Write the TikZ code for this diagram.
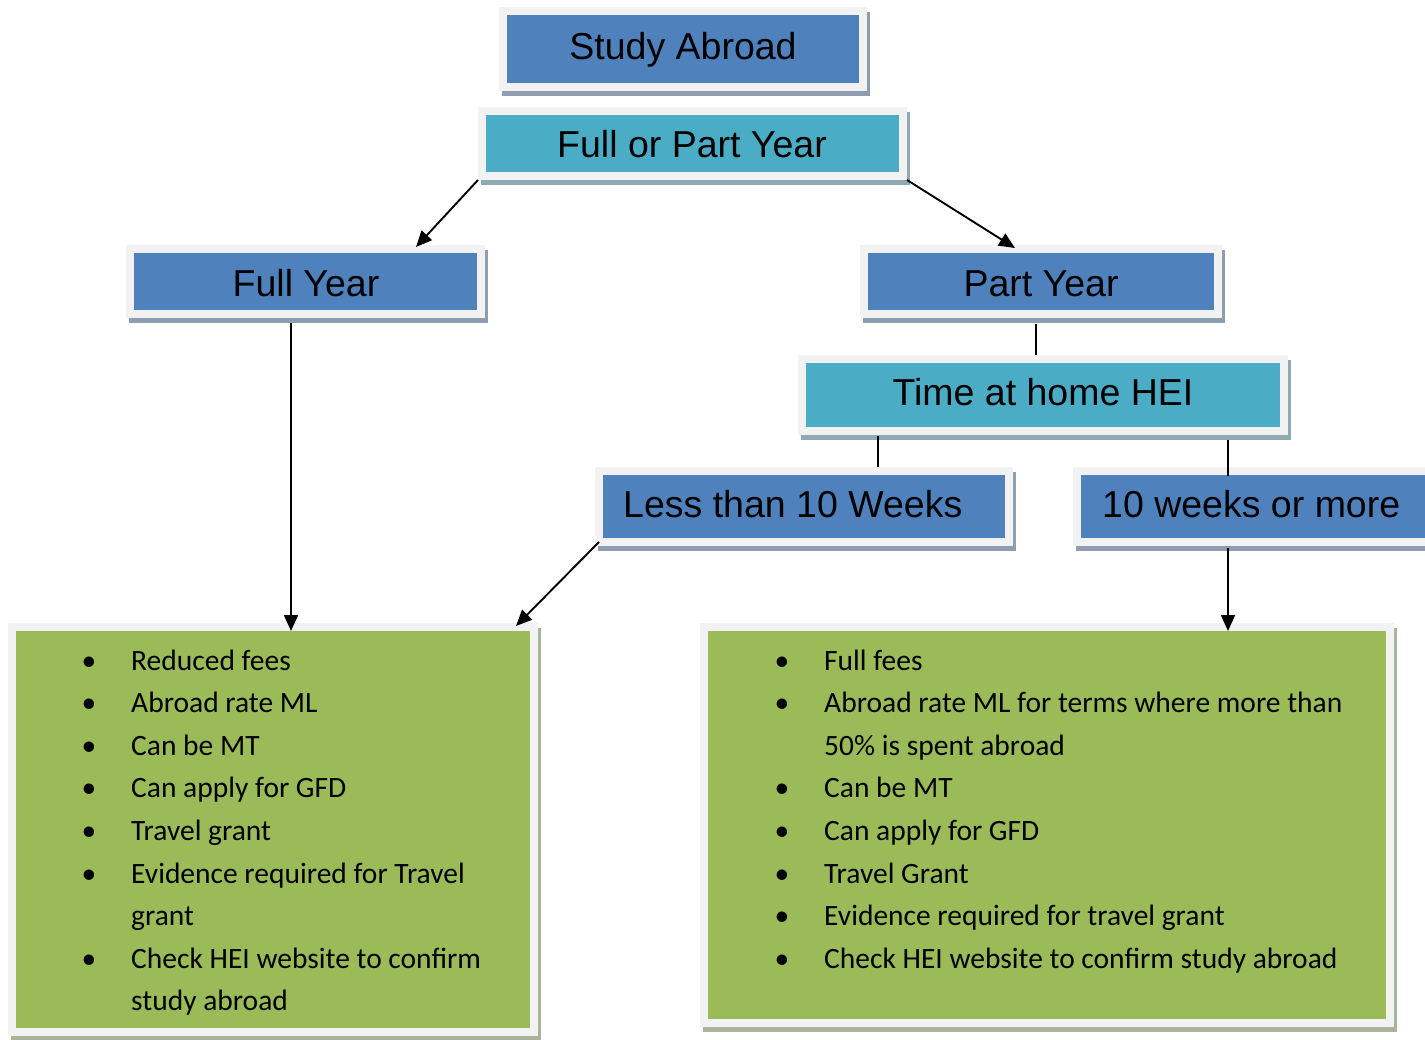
\documentclass[tikz,border=0pt]{standalone}
\usepackage{fontspec}
\setmainfont{Liberation Sans}
\newfontfamily\calfont{Carlito}
\usetikzlibrary{arrows.meta,calc}
\definecolor{blueF}{HTML}{4F81BD}
\definecolor{tealF}{HTML}{4BACC6}
\definecolor{greenF}{HTML}{9BBB59}
\definecolor{frameC}{HTML}{F2F2F2}
\definecolor{shB}{HTML}{8E9DB0}
\definecolor{shT}{HTML}{8FAAB3}
\definecolor{shG}{HTML}{A9B49A}
\newcommand\mybox[7]{%
  \fill[#7] (#2+3,#3+5) rectangle (#4+3,#5+5);
  \node[outerbox, minimum width={#4pt-#2pt}, minimum height={#5pt-#3pt}] (#1) at (#2,#3) {};
  \node[outerbox, fill=#6, minimum width={#4pt-#2pt-16pt}, minimum height={#5pt-#3pt-16pt}] (#1-in) at (#2+8,#3+8) {};
}
\begin{document}
\begin{tikzpicture}[x=1pt,y=-1pt,
  outerbox/.style={fill=frameC, inner sep=0pt, outer sep=0pt, anchor=north west, draw=none},
  headtext/.style={font=\fontsize{37.5}{44}\selectfont, inner sep=0pt, anchor=base},
  itemtext/.style={font=\calfont\fontsize{29.5}{35}\selectfont, inner sep=0pt, anchor=base west},
  bul/.style={font=\calfont\fontsize{29.5}{35}\selectfont, inner sep=0pt, anchor=base},
  conn/.style={line width=1.9pt, black},
  arr/.style={conn, -{Triangle[length=16pt,width=14pt]}}]
\useasboundingbox (0,0) rectangle (1425,1040);
\clip (0,0) rectangle (1425,1040);
\fill[white] (0,0) rectangle (1425,1040);

\mybox{sa}{499}{7}{867}{91}{blueF}{shB}
\mybox{fpy}{478}{107}{907}{180}{tealF}{shT}
\mybox{fy}{126}{245}{485}{318}{blueF}{shB}
\mybox{py}{860}{245}{1222}{318}{blueF}{shB}
\mybox{th}{798}{355}{1288}{435}{tealF}{shT}
\mybox{lt}{595}{467}{1013}{546}{blueF}{shB}
\mybox{tw}{1073}{467}{1445}{546}{blueF}{shB}
\mybox{lg}{8}{623}{538}{1036}{greenF}{shG}
\mybox{rg}{700}{623}{1394}{1027}{greenF}{shG}

\node[headtext] (tsa) at (683,60) {Study Abroad};
\node[headtext] (tfpy) at (692,158) {Full or Part Year};
\node[headtext] (tfy) at (306,297) {Full Year};
\node[headtext] (tpy) at (1041,297) {Part Year};
\node[headtext] (tth) at (1043,406) {Time at home HEI};
\node[headtext, anchor=base west] (tlt) at (623,517) {Less than 10 Weeks};
\node[headtext, anchor=base west] (ttw) at (1102,517) {10 weeks or more};

% connectors
\coordinate (fyTip) at (416,247);
\coordinate (pyTip) at (1015,248);
\coordinate (lgTip) at (516,626);
\draw[arr] (fpy.south west) -- (fyTip);
\draw[arr] (fpy.south east) -- (pyTip);
\draw[conn] (1036,0 |- py.south) ++(0,6) -- (1036,0 |- th.north);
\draw[conn] (878,0 |- th.south) ++(0,1) -- (878,0 |- lt.north) ++(0,3);
\draw[conn] (1228,0 |- th.south) ++(0,5) -- ($(1228,0 |- tw.north)+(0,9)$);
\draw[arr] (291,0 |- fy.south) ++(0,5) -- ($(291,0 |- lg.north)+(0,8)$);
\draw[arr] ($(lt.south west)+(4,-4)$) -- (lgTip);
\draw[arr] (1228,0 |- tw.south) ++(0,2) -- ($(1228,0 |- rg.north)+(0,8)$);

% left list
\foreach \y in {670, 712.6, 755.2, 797.8, 840.4, 883, 968.2}{
  \node[bul] at (89,\y) {•};
}
\node[itemtext] (l1) at (131,670) {Reduced fees};
\node[itemtext] (l2) at (131,712.6) {Abroad rate ML};
\node[itemtext] (l3) at (131,755.2) {Can be MT};
\node[itemtext] (l4) at (131,797.8) {Can apply for GFD};
\node[itemtext] (l5) at (131,840.4) {Travel grant};
\node[itemtext] (l6) at (131,883) {Evidence required for Travel};
\node[itemtext] (l6b) at (131,925.6) {grant};
\node[itemtext] (l7) at (131,968.2) {Check HEI website to confirm};
\node[itemtext] (l7b) at (131,1010.8) {study abroad};

% right list
\foreach \y in {670, 712.6, 797.8, 840.4, 883, 925.6, 968.2}{
  \node[bul] at (782,\y) {•};
}
\node[itemtext] (r1) at (824,670) {Full fees};
\node[itemtext] (r2) at (824,712.6) {Abroad rate ML for terms where more than};
\node[itemtext] (r2b) at (824,755.2) {50\% is spent abroad};
\node[itemtext] (r3) at (824,797.8) {Can be MT};
\node[itemtext] (r4) at (824,840.4) {Can apply for GFD};
\node[itemtext] (r5) at (824,883) {Travel Grant};
\node[itemtext] (r6) at (824,925.6) {Evidence required for travel grant};
\node[itemtext] (r7) at (824,968.2) {Check HEI website to confirm study abroad};
\end{tikzpicture}
\end{document}
